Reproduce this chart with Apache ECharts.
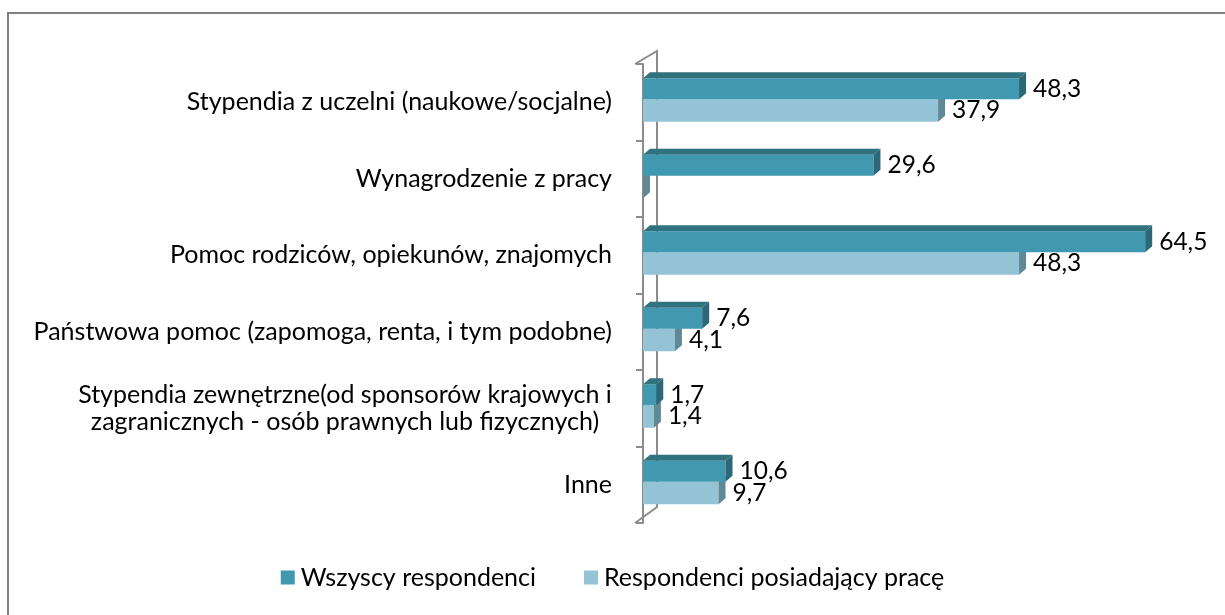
<!DOCTYPE html>
<html>
<head>
<meta charset="utf-8">
<script src="https://cdn.jsdelivr.net/npm/echarts@6/dist/echarts.min.js"></script>
<style>
  html, body { margin: 0; padding: 0; background: #fff; }
  #chart { width: 1225px; height: 615px; }
</style>
</head>
<body>
<div id="chart"></div>
<script>
// kategorie (od góry)
const categories = [
  'Stypendia z uczelni (naukowe/socjalne)',
  'Wynagrodzenie z pracy',
  'Pomoc rodziców, opiekunów, znajomych',
  'Państwowa pomoc (zapomoga, renta, i tym podobne)',
  'Stypendia zewnętrzne(od sponsorów krajowych i\nzagranicznych - osób prawnych lub fizycznych)',
  'Inne'
]
const seriesNames = ['Wszyscy respondenci', 'Respondenci posiadający pracę']
const allRespondents = [48.3, 29.6, 64.5, 7.6, 1.7, 10.6]
const workingRespondents = [37.9, 0, 48.3, 4.1, 1.4, 9.7]

const FONT = 'Lato'
const CAT_SIZE = 25
const DX = 7
const DY = 6

// szerokość najdłuższej linii - do wyśrodkowania etykiet wielowierszowych
const measureCtx = document.createElement('canvas').getContext('2d')
measureCtx.font = CAT_SIZE + 'px ' + FONT
function lineWidth(s) {
  return Math.ceil(measureCtx.measureText(s).width)
}

// rysuje słupek 3D: przód, bok i (dla ciemnego) górę
function make3dBar(colors, top, bottom, withTop) {
  return function (params, api) {
    const val = api.value(0)
    const cat = api.value(1)
    const start = api.coord([0, cat])
    const end = api.coord([val, cat])
    const band = api.size([0, 1])[1]
    const x0 = start[0]
    const x1 = end[0]
    const y0 = end[1] + band * top
    const y1 = end[1] + band * bottom
    const children = [
      { type: 'rect', shape: { x: x0, y: y0, width: x1 - x0, height: y1 - y0 }, style: { fill: colors.front } },
      { type: 'polygon', shape: { points: [[x1, y0], [x1 + DX, y0 - DY], [x1 + DX, y1 - DY], [x1, y1]] }, style: { fill: colors.side } }
    ]
    if (withTop) {
      children.push({ type: 'polygon', shape: { points: [[x0, y0], [x0 + DX, y0 - DY], [x1 + DX, y0 - DY], [x1, y0]] }, style: { fill: colors.top } })
    }
    if (val > 0) {
      children.push({
        type: 'text',
        style: {
          text: val.toFixed(1).replace('.', ','),
          x: x1 + DX + 7,
          y: (y0 + y1) / 2,
          verticalAlign: 'middle',
          font: '24.5px ' + FONT,
          fill: '#000'
        }
      })
    }
    return { type: 'group', children: children }
  }
}

const darkColors = { front: '#4198b1', side: '#2c6877', top: '#31727f' }
const lightColors = { front: '#93c3d5', side: '#5f8995', top: '#7aa9b8' }

const chart = echarts.init(document.getElementById('chart'))

const option = {
  animation: false,
  textStyle: { fontFamily: FONT },
  grid: { left: 643, right: 37, top: 64, bottom: 92 },
  legend: {
    bottom: 20,
    left: 'center',
    itemWidth: 14,
    itemHeight: 14,
    itemGap: 48,
    icon: 'rect',
    textStyle: { fontSize: 25, color: '#000', fontFamily: FONT, padding: [0, 0, 0, 1] },
    data: seriesNames
  },
  xAxis: {
    type: 'value',
    min: 0,
    max: 70,
    show: false
  },
  yAxis: {
    type: 'category',
    data: categories,
    inverse: true,
    offset: 8,
    axisLine: { show: true, lineStyle: { color: '#8c8c8c', width: 2 } },
    axisTick: { show: true, length: 7, lineStyle: { color: '#8c8c8c', width: 2 } },
    axisLabel: {
      margin: 23,
      fontSize: CAT_SIZE,
      color: '#000',
      fontFamily: FONT,
      lineHeight: 27,
      align: 'right',
      formatter: function (value) {
        const lines = value.split('\n')
        if (lines.length === 1) return value
        const w = Math.max.apply(null, lines.map(lineWidth))
        return lines.map(l => '{c' + w + '|' + l + '}').join('\n')
      },
      rich: (function () {
        const r = {}
        categories.forEach(c => {
          const lines = c.split('\n')
          if (lines.length > 1) {
            const w = Math.max.apply(null, lines.map(lineWidth))
            r['c' + w] = { width: w, align: 'center', fontSize: CAT_SIZE, fontFamily: FONT, color: '#000', lineHeight: 27 }
          }
        })
        return r
      })()
    },
    splitLine: { show: false }
  },
  graphic: [
    {
      type: 'rect',
      z: 0,
      shape: { x: 8, y: 13, width: 1400, height: 800 },
      style: { fill: 'none', stroke: '#808080', lineWidth: 2 }
    },
    {
      type: 'polyline',
      z: 0,
      shape: { points: [[635, 64], [657, 51], [657, 507], [635, 523]] },
      style: { fill: 'none', stroke: '#8c8c8c', lineWidth: 2 }
    }
  ],
  series: [
    {
      name: seriesNames[1],
      type: 'custom',
      z: 3,
      itemStyle: { color: lightColors.front },
      encode: { x: 0, y: 1 },
      data: workingRespondents.map((v, i) => [v, i]),
      renderItem: make3dBar(lightColors, -0.04, 0.255, false)
    },
    {
      name: seriesNames[0],
      type: 'custom',
      z: 4,
      itemStyle: { color: darkColors.front },
      encode: { x: 0, y: 1 },
      data: allRespondents.map((v, i) => [v, i]),
      renderItem: make3dBar(darkColors, -0.314, -0.04, true)
    }
  ]
}

chart.setOption(option)
</script>
</body>
</html>
